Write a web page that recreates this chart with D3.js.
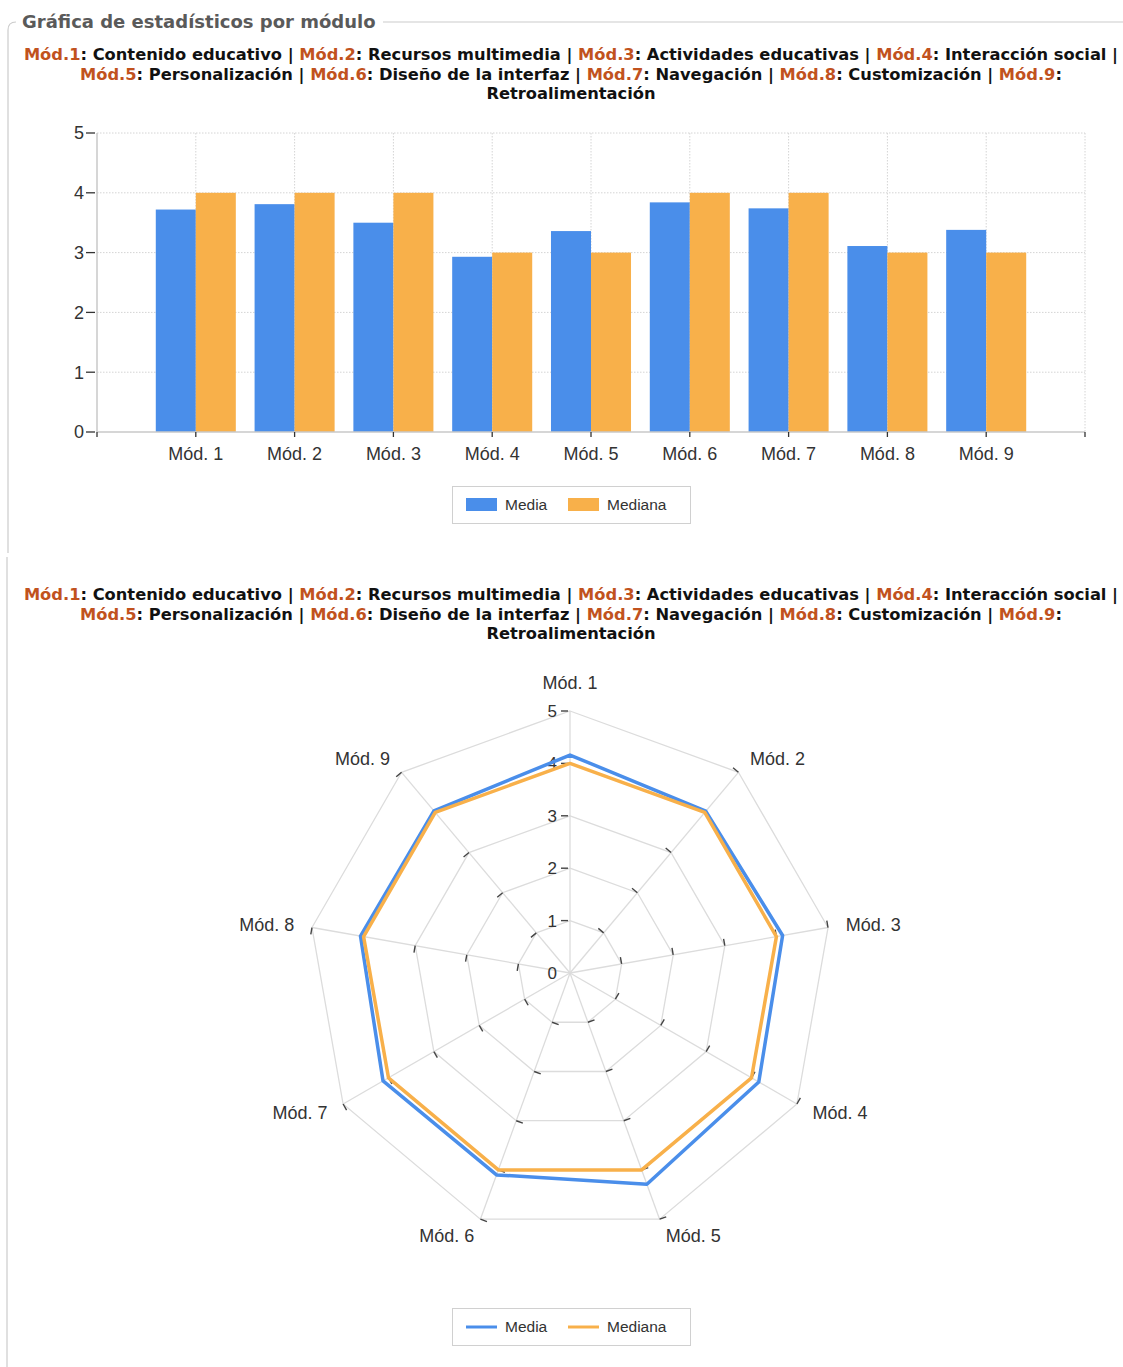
<!DOCTYPE html>
<html>
<head>
<meta charset="utf-8">
<script src="https://cdn.jsdelivr.net/npm/d3@7"></script>
<style>
  html, body { margin: 0; padding: 0; background: #fff; }
  svg { display: block; }
  .hdr { font-family: "DejaVu Sans", Verdana, sans-serif; font-weight: bold; }
  .lbl { font-family: "Liberation Sans", Arial, sans-serif; fill: #333; }
</style>
</head>
<body>
<svg id="chart" width="1123" height="1367"></svg>
<script>
// Module codes and their descriptions
const modules = ["Mód. 1", "Mód. 2", "Mód. 3", "Mód. 4", "Mód. 5", "Mód. 6", "Mód. 7", "Mód. 8", "Mód. 9"];
const moduleCodes = ["Mód.1", "Mód.2", "Mód.3", "Mód.4", "Mód.5", "Mód.6", "Mód.7", "Mód.8", "Mód.9"];
const moduleNames = ["Contenido educativo", "Recursos multimedia", "Actividades educativas", "Interacción social",
  "Personalización", "Diseño de la interfaz", "Navegación", "Customización", "Retroalimentación"];

// Bar chart values
const barMedia   = [3.72, 3.81, 3.50, 2.93, 3.36, 3.84, 3.74, 3.11, 3.38];
const barMediana = [4, 4, 4, 3, 3, 4, 4, 3, 3];

// Radar chart values
const radarMedia   = [4.16, 4.03, 4.12, 4.16, 4.29, 4.10, 4.12, 4.06, 4.04];
const radarMediana = [4, 4, 4, 4, 4, 4, 4, 4, 4];

const seriesNames = ["Media", "Mediana"];
const yTicks = [0, 1, 2, 3, 4, 5];
const title = "Gráfica de estadísticos por módulo";

const BLUE = "#4A8EEA", ORANGE = "#F8B04A", CODE = "#C1521E";

const svg = d3.select("#chart");

// ---- fieldset frame ----
svg.append("path")
  .attr("d", "M 8 553 L 8 30 Q 8 22 16 22")
  .attr("fill", "none").attr("stroke", "#ccc").attr("stroke-width", 1.2);
svg.append("line").attr("x1", 383).attr("x2", 1123).attr("y1", 22).attr("y2", 22)
  .attr("stroke", "#ccc").attr("stroke-width", 1.2);
svg.append("line").attr("x1", 7).attr("x2", 7).attr("y1", 557).attr("y2", 1367)
  .attr("stroke", "#ccc").attr("stroke-width", 1.2);
svg.append("text").attr("class", "hdr")
  .attr("x", 22).attr("y", 28).attr("font-size", 18).attr("fill", "#5a5a5a")
  .text(title);

// ---- module caption (three centred lines) ----
function caption(yFirst) {
  const lines = [[], [], []];
  moduleCodes.forEach((c, i) => {
    const last = i === moduleCodes.length - 1;
    const line = i < 4 ? 0 : 1;
    lines[line].push({ t: c, code: true });
    if (last) {
      lines[line].push({ t: ":", code: false });
      lines[2].push({ t: moduleNames[i], code: false });
    } else {
      lines[line].push({ t: ": " + moduleNames[i] + (i === 3 ? " |" : " | "), code: false });
    }
  });
  lines.forEach((segs, li) => {
    const t = svg.append("text").attr("class", "hdr")
      .attr("x", 571).attr("y", yFirst + li * 19.5)
      .attr("text-anchor", "middle").attr("font-size", 16.3)
      .attr("xml:space", "preserve");
    segs.forEach(s => t.append("tspan").attr("fill", s.code ? CODE : "#111").text(s.t));
  });
}
caption(60);
caption(600);

// ---- bar chart ----
const x = d3.scaleLinear().domain([0, modules.length + 1]).range([97, 1085]);
const y = d3.scaleLinear().domain([0, 5]).range([432, 133]);
const step = x(1) - x(0);
const bw = step * 0.405;

const gBar = svg.append("g");
// dotted grid
gBar.selectAll(".hg").data(yTicks.slice(1)).join("line")
  .attr("x1", x(0)).attr("x2", x(10)).attr("y1", d => y(d)).attr("y2", d => y(d))
  .attr("stroke", "#d4d4d4").attr("stroke-dasharray", "1.5,1.5");
gBar.selectAll(".vg").data(d3.range(1, modules.length + 2)).join("line")
  .attr("x1", d => x(d)).attr("x2", d => x(d)).attr("y1", y(5)).attr("y2", y(0))
  .attr("stroke", "#d4d4d4").attr("stroke-dasharray", "1.5,1.5");

// bars
gBar.selectAll(".bm").data(barMedia).join("rect")
  .attr("x", (d, i) => x(i + 1) - bw).attr("width", bw)
  .attr("y", d => y(d)).attr("height", d => y(0) - y(d)).attr("fill", BLUE);
gBar.selectAll(".bd").data(barMediana).join("rect")
  .attr("x", (d, i) => x(i + 1)).attr("width", bw)
  .attr("y", d => y(d)).attr("height", d => y(0) - y(d)).attr("fill", ORANGE);

// axes
gBar.append("line").attr("x1", x(0)).attr("x2", x(10)).attr("y1", y(0)).attr("y2", y(0))
  .attr("stroke", "#c8c8c8").attr("stroke-width", 1.5);
gBar.append("line").attr("x1", x(0)).attr("x2", x(0)).attr("y1", y(5)).attr("y2", y(0))
  .attr("stroke", "#c8c8c8").attr("stroke-width", 1.5);
gBar.selectAll(".yt").data(yTicks).join("line")
  .attr("x1", x(0) - 11).attr("x2", x(0) - 2).attr("y1", d => y(d)).attr("y2", d => y(d))
  .attr("stroke", "#333").attr("stroke-width", 1.3);
gBar.selectAll(".yl").data(yTicks).join("text").attr("class", "lbl")
  .attr("x", x(0) - 13).attr("y", d => y(d)).attr("dy", "0.35em")
  .attr("text-anchor", "end").attr("font-size", 18).text(d => d);
gBar.selectAll(".xt").data(d3.range(0, modules.length + 2)).join("line")
  .attr("x1", d => x(d)).attr("x2", d => x(d)).attr("y1", y(0)).attr("y2", y(0) + 5)
  .attr("stroke", "#333").attr("stroke-width", 1.3);
gBar.selectAll(".xl").data(modules).join("text").attr("class", "lbl")
  .attr("x", (d, i) => x(i + 1)).attr("y", y(0) + 28)
  .attr("text-anchor", "middle").attr("font-size", 18).text(d => d);

// legend helper
function legend(top, kind) {
  const g = svg.append("g");
  g.append("rect").attr("x", 452.5).attr("y", top + 0.5).attr("width", 238).attr("height", 37)
    .attr("fill", "#fff").attr("stroke", "#d0d0d0");
  const colors = [BLUE, ORANGE];
  const xs = [466, 568];
  seriesNames.forEach((n, i) => {
    if (kind === "rect") {
      g.append("rect").attr("x", xs[i]).attr("y", top + 12).attr("width", 31).attr("height", 13)
        .attr("fill", colors[i]);
    } else {
      g.append("line").attr("x1", xs[i]).attr("x2", xs[i] + 31)
        .attr("y1", top + 19).attr("y2", top + 19)
        .attr("stroke", colors[i]).attr("stroke-width", 3);
    }
    g.append("text").attr("class", "lbl").attr("x", xs[i] + 39).attr("y", top + 19)
      .attr("dy", "0.35em").attr("font-size", 15.5).text(n);
  });
}
legend(486, "rect");

// ---- radar chart ----
const cx = 570, cy = 973;
const r = d3.scaleLinear().domain([0, 5]).range([0, 262]);
const ang = i => i * 2 * Math.PI / modules.length; // clockwise from top
const pt = (i, v) => [cx + r(v) * Math.sin(ang(i)), cy - r(v) * Math.cos(ang(i))];
const gR = svg.append("g");

// rings and spokes
yTicks.slice(1).forEach(v => {
  gR.append("path")
    .attr("d", d3.line()(modules.map((m, i) => pt(i, v))) + "Z")
    .attr("fill", "none").attr("stroke", "#dcdcdc").attr("stroke-width", 1.3);
});
modules.forEach((m, i) => {
  const [ex, ey] = pt(i, 5);
  gR.append("line").attr("x1", cx).attr("y1", cy).attr("x2", ex).attr("y2", ey)
    .attr("stroke", "#dcdcdc").attr("stroke-width", 1.3);
});
// small ticks on every ring vertex, on the counter-clockwise side of each spoke
modules.forEach((m, i) => {
  const a = ang(i);
  const px = -Math.cos(a), py = -Math.sin(a); // unit vector to the left of the spoke
  yTicks.slice(1).forEach(v => {
    const [vx, vy] = pt(i, v);
    const o1 = i === 0 ? 2 : 0, o2 = i === 0 ? 9 : 7;
    gR.append("line")
      .attr("x1", vx + px * o1).attr("y1", vy + py * o1)
      .attr("x2", vx + px * o2).attr("y2", vy + py * o2)
      .attr("stroke", "#444").attr("stroke-width", 1.4);
  });
});
// value labels on the first spoke
gR.selectAll(".rl").data(yTicks).join("text").attr("class", "lbl")
  .attr("x", cx - 13).attr("y", d => cy - r(d)).attr("dy", "0.35em")
  .attr("text-anchor", "end").attr("font-size", 17).text(d => d);

// series
const radarLine = vals => d3.line()(vals.map((v, i) => pt(i, v))) + "Z";
gR.append("path").attr("d", radarLine(radarMedia))
  .attr("fill", "none").attr("stroke", BLUE).attr("stroke-width", 3.5).attr("stroke-linejoin", "round");
gR.append("path").attr("d", radarLine(radarMediana))
  .attr("fill", "none").attr("stroke", ORANGE).attr("stroke-width", 3.5).attr("stroke-linejoin", "round");

// spoke labels
modules.forEach((m, i) => {
  const a = ang(i);
  const s = Math.sin(a), c = Math.cos(a);
  const [ex, ey] = pt(i, 5);
  let lx = ex + 18 * s, ly = ey - 18 * c;
  let anchor = "middle";
  if (s > 0.1) anchor = "start"; else if (s < -0.1) anchor = "end";
  if (Math.abs(s) <= 0.1) ly -= 10 * Math.sign(c);
  gR.append("text").attr("class", "lbl")
    .attr("x", lx).attr("y", ly).attr("dy", "0.35em")
    .attr("text-anchor", anchor).attr("font-size", 18).text(m);
});

legend(1308, "line");
</script>
</body>
</html>
